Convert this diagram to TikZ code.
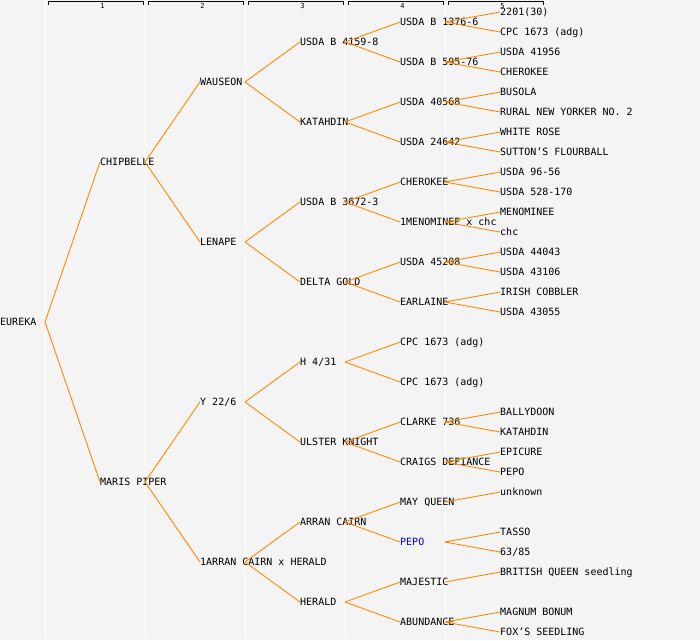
\documentclass[tikz,border=0pt]{standalone}
\usepackage{fontspec}
\setmonofont{DejaVu Sans Mono}
\usetikzlibrary{trees,calc}
\definecolor{pedline}{HTML}{FF8800}
\definecolor{pedbg}{HTML}{F4F4F4}
\definecolor{pedblue}{HTML}{0000FF}

\begin{document}
\begin{tikzpicture}[
    x=1pt, y=1pt,
    grow'=right,
    growth parent anchor=west,
    level distance=100pt,
    level 1/.style={sibling distance=320pt},
    level 2/.style={sibling distance=160pt},
    level 3/.style={sibling distance=80pt},
    level 4/.style={sibling distance=40pt},
    level 5/.style={sibling distance=20pt},
    every node/.style={anchor=west, inner sep=0pt,
        text height=7.3pt, text depth=0pt,
        font=\ttfamily\fontsize{10}{12}\selectfont},
    edge from parent/.style={draw=pedline, line width=0.9pt},
    edge from parent path={
        ($(\tikzparentnode.west)+(45pt,0pt)$) -- (\tikzchildnode.west)
    },
    colnum/.style={anchor=center, text height=, text depth=,
        font=\ttfamily\fontsize{7}{7}\selectfont}
  ]
  \useasboundingbox (0,0) rectangle (700,-640);
  % background, column rules and generation headers
  \fill[pedbg] (0,0) rectangle (700,-640);
  \foreach \col in {1,...,5} {
    \draw[white, line width=1pt] (100*\col-55,0) -- (100*\col-55,-638);
    \draw[line width=0.8pt] (100*\col-52,-4.5) -- (100*\col-52,-1.5)
        -- (100*\col+43,-1.5) -- (100*\col+43,-4.5);
    \node[colnum] at (100*\col+2.5,-6) {\col};
  }
  \node (eureka) at (0,-322) {EUREKA}
    child { node (chipbelle) {CHIPBELLE}
      child { node (wauseon) {WAUSEON}
        child { node (usdab4159) {USDA B 4159-8}
          child { node (usdab1376) {USDA B 1376-6}
            child { node {2201(30)} }
            child { node {CPC 1673 (adg)} }
          }
          child { node (usdab595) {USDA B 595-76}
            child { node {USDA 41956} }
            child { node {CHEROKEE} }
          }
        }
        child { node (katahdin) {KATAHDIN}
          child { node (usda40568) {USDA 40568}
            child { node {BUSOLA} }
            child { node {RURAL NEW YORKER NO. 2} }
          }
          child { node (usda24642) {USDA 24642}
            child { node {WHITE ROSE} }
            child { node {SUTTON’S FLOURBALL} }
          }
        }
      }
      child { node (lenape) {LENAPE}
        child { node (usdab3672) {USDA B 3672-3}
          child { node (cherokee) {CHEROKEE}
            child { node {USDA 96-56} }
            child { node {USDA 528-170} }
          }
          child { node (menxchc) {1MENOMINEE x chc}
            child { node {MENOMINEE} }
            child { node {chc} }
          }
        }
        child { node (deltagold) {DELTA GOLD}
          child { node (usda45208) {USDA 45208}
            child { node {USDA 44043} }
            child { node {USDA 43106} }
          }
          child { node (earlaine) {EARLAINE}
            child { node {IRISH COBBLER} }
            child { node {USDA 43055} }
          }
        }
      }
    }
    child { node (maris) {MARIS PIPER}
      child { node (y226) {Y 22/6}
        child { node (h431) {H 4/31}
          child { node (cpca) {CPC 1673 (adg)} }
          child { node (cpcb) {CPC 1673 (adg)} }
        }
        child { node (ulster) {ULSTER KNIGHT}
          child { node (clarke) {CLARKE 736}
            child { node {BALLYDOON} }
            child { node {KATAHDIN} }
          }
          child { node (craigs) {CRAIGS DEFIANCE}
            child { node {EPICURE} }
            child { node {PEPO} }
          }
        }
      }
      child { node (arranxherald) {1ARRAN CAIRN x HERALD}
        child { node (arran) {ARRAN CAIRN}
          child { node (mayqueen) {MAY QUEEN}
            child { node {unknown} }
            child [missing] {}
          }
          child { node [text=pedblue] (pepo) {PEPO}
            child { node {TASSO} }
            child { node {63/85} }
          }
        }
        child { node (herald) {HERALD}
          child { node (majestic) {MAJESTIC}
            child { node {BRITISH QUEEN seedling} }
            child [missing] {}
          }
          child { node (abundance) {ABUNDANCE}
            child { node {MAGNUM BONUM} }
            child { node {FOX’S SEEDLING} }
          }
        }
      }
    };
\end{tikzpicture}
\end{document}
